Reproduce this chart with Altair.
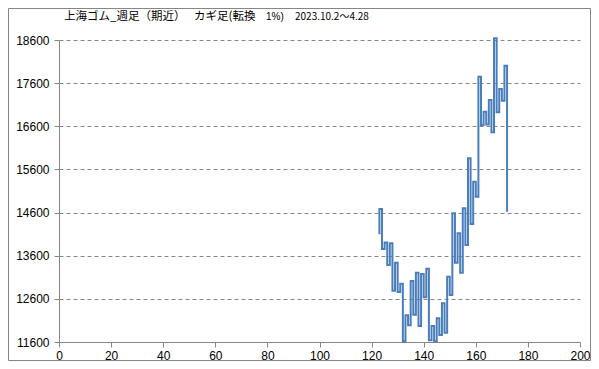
import altair as alt
import pandas as pd

# ---- data ----
title_parts = ["上海ゴム_週足（期近）", "カギ足(転換", "1%)", "2023.10.2～4.28"]

# kagi line index of the first vertical stroke
kagi_first_index = 123

# successive kagi turning prices (start, then end of each vertical stroke)
kagi_prices = [
    14100, 14680, 13755, 13906, 13384, 13887, 12789, 13438, 12760, 12950,
    11620, 12218, 11987, 13014, 12232, 13206, 11971, 13175, 12640, 13299,
    11640, 11971, 11620, 12149, 11762, 12497, 11815, 13113, 12689, 14583,
    13438, 14119, 13206, 14699, 13848, 15858, 14335, 15315, 14968, 17749,
    16630, 16938, 16640, 17209, 16460, 18640, 16924, 17464, 17193, 18004,
    14620,
]

x_ticks = [0, 20, 40, 60, 80, 100, 120, 140, 160, 180, 200]
y_ticks = [11600, 12600, 13600, 14600, 15600, 16600, 17600, 18600]

# ---- build kagi path (vertical strokes joined by shoulders / waists) ----
rows = []
order = 0
for i in range(len(kagi_prices) - 1):
    xi = kagi_first_index + i
    rows.append({"x": xi, "y": kagi_prices[i], "o": order})
    order += 1
    rows.append({"x": xi, "y": kagi_prices[i + 1], "o": order})
    order += 1
df = pd.DataFrame(rows)

grey = "#868686"
blue = "#4A7EBB"

line = alt.Chart(df).mark_line(color=blue, strokeWidth=2).encode(
    x=alt.X(
        "x:Q",
        scale=alt.Scale(domain=[0, 200], nice=False, zero=False),
        axis=alt.Axis(
            values=x_ticks, title=None, grid=False, format="d",
            tickSize=5, tickColor=grey, domainColor=grey,
            labelFont="Liberation Sans", labelFontSize=12, labelColor="#000000",
            labelPadding=3, labelFlush=False, labelOverlap=False,
        ),
    ),
    y=alt.Y(
        "y:Q",
        scale=alt.Scale(domain=[11600, 18600], nice=False, zero=False),
        axis=alt.Axis(
            values=y_ticks, title=None, grid=True, format="d",
            gridColor=grey, gridDash=[4, 3], gridWidth=1,
            tickSize=5, tickColor=grey, domainColor=grey,
            labelFont="Liberation Sans", labelFontSize=12, labelColor="#000000",
            labelPadding=5, labelFlush=False, labelOverlap=False,
        ),
    ),
    order="o:Q",
)


def title_piece(text, px, size, font):
    return alt.Chart(pd.DataFrame({"t": [text]})).mark_text(
        align="left", baseline="middle", font=font,
        fontSize=size, color="#000000",
    ).encode(text="t:N", x=alt.value(px), y=alt.value(-23.5))


t1 = title_piece(title_parts[0], 5, 11.5, "Noto Sans CJK JP")
t2 = title_piece(title_parts[1], 135, 11.5, "Noto Sans CJK JP")
t3 = title_piece(title_parts[2], 207, 10, "Liberation Sans")
t4 = title_piece(title_parts[3], 236, 10, "Noto Sans CJK JP")

frame = alt.Chart(pd.DataFrame({"a": [0]})).mark_rect(
    fill="transparent", stroke=grey, strokeWidth=1,
).encode(
    x=alt.value(-50.5), x2=alt.value(531.5),
    y=alt.value(-31.5), y2=alt.value(320.5),
)

chart = alt.layer(frame, line, t1, t2, t3, t4).properties(
    width=521,
    height=302,
    padding={"left": 51, "top": 32, "right": 11, "bottom": 19},
    autosize=alt.AutoSizeParams(type="none"),
    background="#ffffff",
).configure_view(strokeWidth=0)

chart.save("out.html", embed_options={"renderer": "svg", "actions": False})
